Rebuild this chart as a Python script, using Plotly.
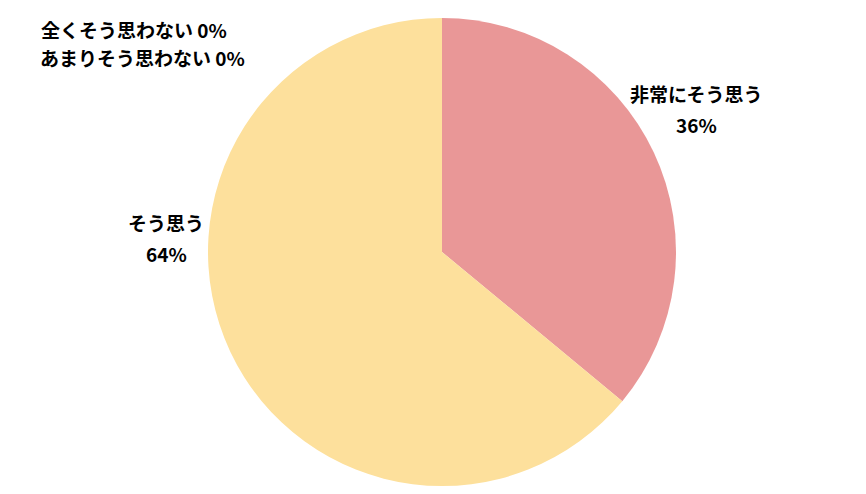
import plotly.graph_objects as go

# 回答の内訳
labels = ["非常にそう思う", "そう思う", "あまりそう思わない", "全くそう思わない"]
values = [36, 64, 0, 0]
colors = ["#E99797", "#FDE09C", "#A9C4E8", "#B8D89A"]

W, H = 866, 494
OFF = 8  # ページ余白
cx, cy, r = 442 - OFF, 252 - OFF, 234

fig = go.Figure()

fig.add_trace(go.Pie(
    labels=labels,
    values=values,
    sort=False,
    direction="clockwise",
    rotation=0,
    marker=dict(colors=colors, line=dict(width=0)),
    textinfo="none",
    hoverinfo="label+percent",
    showlegend=False,
    domain=dict(x=[(cx - r) / W, (cx + r) / W], y=[1 - (cy + r) / H, 1 - (cy - r) / H]),
))

# ラベル位置 (px): 名前の中心, パーセントの中心 (None なら同じ行)
label_pos = {
    "非常にそう思う": ((696, 93), (696, 125)),
    "そう思う": ((166, 222), (166, 253)),
    "あまりそう思わない": ((142, 58), None),
    "全くそう思わない": ((134, 30), None),
}

font = dict(family="Noto Sans CJK JP", size=19, color="#000000")


def put(text, x, y):
    fig.add_annotation(
        x=(x - OFF) / W, y=1 - (y - OFF) / H, xref="paper", yref="paper",
        text=f"<b>{text}</b>", showarrow=False, font=font,
        xanchor="center", yanchor="middle",
    )


for name, val in zip(labels, values):
    name_xy, pct_xy = label_pos[name]
    if pct_xy is None:
        put(f"{name} {val}%", *name_xy)
    else:
        put(name, *name_xy)
        put(f"{val}%", *pct_xy)

fig.update_layout(
    width=W, height=H,
    margin=dict(l=0, r=0, t=0, b=0),
    paper_bgcolor="white",
    plot_bgcolor="white",
)

fig.write_html("out.html")
